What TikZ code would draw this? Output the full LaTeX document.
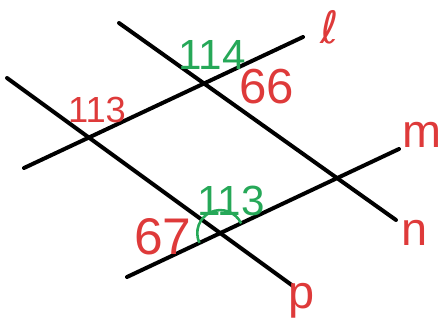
\documentclass[tikz,border=0pt]{standalone}
\usepackage{fontspec}
\setmainfont{Liberation Sans}
\newfontfamily\dvfont{DejaVu Sans}
\usepackage{xcolor}
\usetikzlibrary{calc,intersections}
\definecolor{penred}{RGB}{222,58,58}
\definecolor{pengreen}{RGB}{38,168,88}
\tikzset{
  ln/.style={line width=3.4pt, line cap=round, black},
  redlbl/.style={text=penred, inner sep=0pt, font=\fontsize{36}{36}\selectfont},
  greenlbl/.style={text=pengreen, inner sep=0pt, font=\fontsize{36}{36}\selectfont},
  letter/.style={text=penred, inner sep=0pt, font=\fontsize{40}{40}\selectfont},
}
\begin{document}
\begin{tikzpicture}[x=0.03cm,y=0.03cm]
\useasboundingbox (0,0) rectangle (443,323);
% end points (y up)
\coordinate (p1) at (7,245);   \coordinate (p2) at (293,37);
\coordinate (l1) at (24,155);  \coordinate (l2) at (303,286);
\coordinate (n1) at (119,300); \coordinate (n2) at (396,103);
\coordinate (m1) at (127,46);  \coordinate (m2) at (399,174);
\draw[ln, name path=P] (p1) -- (p2);
\draw[ln, name path=L] (l1) -- (l2);
\draw[ln, name path=N] (n1) -- (n2);
\draw[ln, name path=M] (m1) -- (m2);
\path[name intersections={of=M and P, by=X}];
% line labels
\node[letter, font=\dvfont\fontsize{38}{38}\selectfont] (lab-l) at (330,296) {ℓ};
\node[letter] (lab-m) at (422,188) {m};
\node[letter] (lab-n) at (415,90) {n};
\node[letter] (lab-p) at (302,22) {p};
% angle labels
\node[redlbl, font=\fontsize{31}{31}\selectfont] (a113) at (97,213) {113};
\node[greenlbl] (a114) at (212,268) {114};
\node[redlbl, font=\fontsize{42}{42}\selectfont] (a66) at (267,236) {66};
\node[redlbl, font=\fontsize{44}{44}\selectfont] (a67) at (163,86) {67};
\node[greenlbl] (b113) at (231,122) {113};
\draw[pengreen, line width=2.2pt] ($(X)+(205:23)$) arc[start angle=205, end angle=25, radius=23];
\end{tikzpicture}
\end{document}
